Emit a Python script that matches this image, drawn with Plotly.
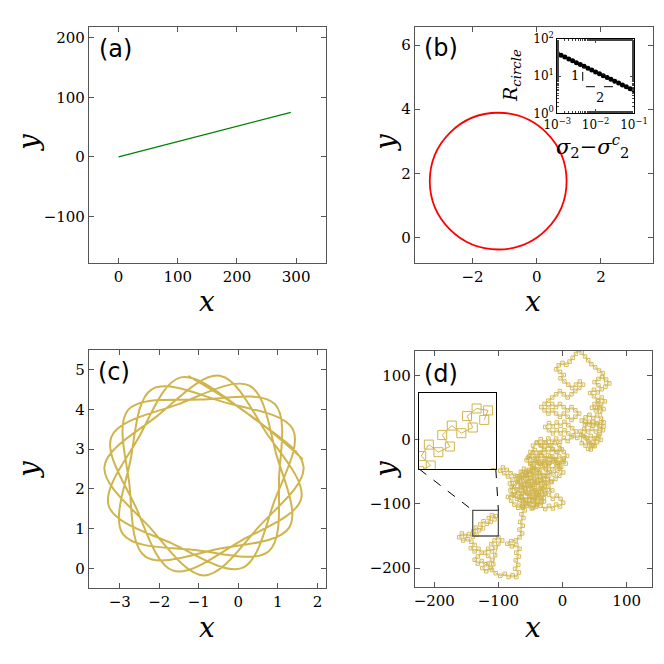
import plotly.graph_objects as go

# (a) straight trajectory
line_x = [0, 291]
line_y = [0, 75]

# (b) circular trajectory: centre and radius
circle_cx = -1.2
circle_cy = 1.76
circle_r = 2.13

# (b) inset: circle radius against sigma_2 - sigma_2^c
sigma_diff = [0.001, 0.00126, 0.00158, 0.002, 0.00251, 0.00316, 0.00398, 0.00501,
              0.00631, 0.00794, 0.01, 0.0126, 0.0158, 0.02, 0.0251, 0.0316,
              0.0398, 0.0501, 0.0631, 0.0794, 0.1]
r_circle = [41.1, 36.6, 32.7, 29.1, 25.9, 23.1, 20.6, 18.4, 16.4, 14.6, 13.0,
            11.6, 10.3, 9.2, 8.2, 7.3, 6.5, 5.8, 5.2, 4.6, 4.1]
slope_x = [0.0046, 0.0046, 0.043]
slope_y = [13, 5.2, 5.2]

# (c) rosette trajectory (corners and side points)
rose_x = [1.63, 0.19, -1.46, -2.53, -3.28, -1.67, 0.10, 0.91, 1.38, -0.35,
          -2.19, -2.73, -2.92, -1.09, 0.77, 1.03, 0.92, -0.95, -2.79, -2.76,
          -2.36, -0.50, 1.29, 0.96, 0.28, -1.53, -3.21, -2.60, -1.65, 0.06,
          1.59, 0.71, -0.47, -2.05, -3.39, -2.27, -0.87, 0.53, 1.65, 0.31, -1.27]
rose_y = [2.75, 3.93, 4.81, 3.28, 1.57, 0.62, 0.01, 1.69, 3.50, 4.18,
          4.51, 2.72, 0.86, 0.46, 0.43, 2.28, 4.14, 4.25, 3.99, 2.13,
          0.30, 0.49, 1.03, 2.87, 4.60, 4.13, 3.32, 1.55, -0.06, 0.69,
          1.76, 3.41, 4.85, 3.84, 2.55, 1.06, -0.18, 1.06, 2.55, 3.84, 4.85]

# (d) random-walk trajectory (path)
walk_xy = [
    (-106, -124), (-104, -119), (-110, -118), (-115, -122), (-112, -128), (-118, -131),
    (-123, -127), (-128, -132), (-124, -138), (-130, -141), (-135, -137), (-139, -143),
    (-134, -148), (-140, -151), (-146, -147), (-152, -150), (-157, -146), (-161, -152),
    (-155, -157), (-148, -155), (-142, -159), (-137, -164), (-143, -169), (-137, -174),
    (-131, -170), (-126, -176), (-132, -182), (-137, -187), (-132, -193), (-126, -189),
    (-120, -194), (-125, -200), (-119, -205), (-113, -200), (-116, -193), (-110, -187),
    (-116, -181), (-121, -176), (-116, -170), (-110, -174), (-105, -168), (-111, -163),
    (-106, -157), (-100, -152), (-94, -157), (-100, -162), (-105, -180), (-108, -194),
    (-110, -203), (-104, -208), (-97, -212), (-90, -209), (-84, -214), (-78, -211),
    (-72, -214), (-68, -207), (-74, -201), (-69, -195), (-73, -188), (-68, -182),
    (-72, -176), (-67, -170), (-72, -164), (-79, -166), (-86, -162), (-80, -158),
    (-73, -157), (-67, -152), (-63, -146), (-67, -140), (-62, -134), (-66, -128),
    (-61, -122), (-64, -116), (-59, -110), (-62, -104), (-57, -99), (-63, -103),
    (-69, -106), (-75, -101), (-80, -95), (-85, -89), (-79, -86), (-62, -95),
    (-68, -90), (-63, -84), (-70, -79), (-76, -85), (-81, -79), (-76, -73),
    (-82, -68), (-78, -62), (-85, -57), (-91, -52), (-97, -48), (-93, -43),
    (-87, -47), (-81, -52), (-74, -56), (-70, -64), (-65, -71), (-59, -77),
    (-53, -83), (-47, -89), (-51, -95), (-45, -101), (-39, -96), (-43, -90),
    (-37, -85), (-43, -79), (-49, -74), (-55, -68), (-61, -62), (-67, -57),
    (-62, -50), (-56, -55), (-50, -60), (-44, -66), (-38, -71), (-32, -77),
    (-27, -83), (-33, -89), (-29, -96), (-34, -103), (-27, -108), (-21, -103),
    (-15, -107), (-10, -101), (-4, -104), (1, -98), (-3, -92), (-9, -87),
    (-15, -92), (-21, -86), (-16, -79), (-22, -73), (-28, -67), (-34, -62),
    (-40, -57), (-46, -52), (-52, -47), (-58, -52), (-64, -58), (-70, -66),
    (-64, -74), (-58, -70), (-52, -76), (-46, -82), (-40, -88), (-46, -94),
    (-52, -88), (-58, -82), (-64, -88), (-58, -94), (-52, -100), (-46, -106),
    (-40, -102), (-34, -96), (-40, -82), (-34, -76), (-28, -72), (-34, -68),
    (-40, -64), (-46, -70), (-52, -64), (-58, -60), (-52, -54),
    (-60, -45), (-53, -48), (-46, -44), (-39, -47), (-32, -43), (-26, -46),
    (-23, -52), (-30, -55), (-37, -51), (-44, -54), (-51, -50), (-58, -53), (-65, -50),
    (-71, -57), (-64, -60), (-57, -56), (-50, -59), (-43, -62), (-36, -58), (-29, -61),
    (-22, -57), (-18, -65), (-25, -68), (-32, -64), (-39, -67), (-46, -70), (-53, -66),
    (-60, -69), (-67, -65), (-74, -68), (-79, -74), (-72, -77), (-65, -73), (-58, -76),
    (-51, -72), (-44, -75), (-37, -79), (-30, -75), (-23, -78), (-27, -84), (-34, -81),
    (-41, -85), (-48, -81), (-55, -84), (-62, -80), (-69, -83), (-76, -87), (-71, -92),
    (-64, -89), (-57, -93), (-50, -89), (-43, -92), (-36, -88), (-29, -91), (-33, -97),
    (-40, -100), (-47, -96), (-54, -99), (-61, -96), (-67, -99), (-62, -106), (-55, -103),
    (-48, -107), (-41, -104), (-47, -41),
    (-41, -46), (-35, -51), (-29, -56), (-23, -61), (-17, -66), (-11, -61),
    (-5, -56), (1, -51), (-4, -45), (-10, -41), (-16, -46), (-22, -41),
    (-28, -36), (-34, -41), (-40, -36), (-46, -31), (-52, -26), (-56, -32),
    (-50, -38), (-44, -44), (-38, -30), (-32, -34), (-26, -44), (-20, -50),
    (-14, -54), (-8, -48), (-2, -42), (-8, -36), (-14, -32), (-20, -36),
    (-50, -36), (-43, -33), (-36, -37), (-29, -33), (-22, -37), (-15, -34), (-8, -38),
    (-1, -34), (5, -37), (2, -29), (-5, -26), (-12, -30), (-19, -26), (-26, -29),
    (-33, -25), (-40, -29), (-47, -25), (-54, -28), (-50, -19), (-43, -16), (-36, -20),
    (-29, -16), (-22, -19), (-15, -15), (-8, -19), (-1, -15), (-5, -8), (-12, -5),
    (-19, -9), (-26, -5), (-33, -8), (-40, -5), (-46, -9),
    (-46, -20), (-40, -25), (-34, -20), (-28, -25), (-22, -30), (-16, -26),
    (-10, -31), (-4, -36), (2, -31), (7, -25), (2, -19), (-4, -14),
    (-10, -19), (-16, -14), (-22, -9), (-28, -14), (-34, -9), (-40, -4),
    (-34, 1), (-28, -4), (-22, 2), (-16, -3), (-10, 2), (-4, -3),
    (2, 3), (8, -2), (14, 4), (9, 10), (3, 15), (-3, 10),
    (-9, 15), (-15, 10), (-21, 15), (-27, 20), (-21, 26), (-15, 21),
    (-9, 27), (-3, 22), (3, 28), (9, 23), (15, 18), (21, 13),
    (17, 7), (23, 3), (29, 8),
    (30, -5), (36, -9), (42, -5), (48, -9), (54, -4), (60, 0), (56, 6), (50, 2),
    (44, 6), (38, 2), (32, 6), (28, 13), (34, 17), (40, 13), (46, 17), (52, 13),
    (58, 17), (64, 21), (60, 27), (54, 24), (48, 28), (42, 24), (36, 28),
    (35, 4), (40, -2), (45, -8),
    (40, -14), (44, -15), (50, -10), (47, -3), (53, 3), (58, 9),
    (63, 15), (58, 21), (53, 26), (47, 22), (41, 28), (35, 24),
    (30, 30), (36, 35), (42, 39), (48, 34), (54, 38), (60, 33),
    (64, 27), (59, 44), (64, 48), (58, 51), (52, 46), (46, 50), (50, 56), (56, 60),
    (54, 50), (60, 55), (66, 60), (61, 66),
    (55, 62), (49, 68), (43, 73), (49, 78), (55, 74), (61, 79),
    (56, 85), (50, 90), (56, 95), (62, 98), (68, 94), (73, 88),
    (67, 83), (63, 104), (57, 108), (51, 113), (45, 118), (40, 124),
    (35, 130), (30, 136), (25, 140), (21, 134), (16, 128), (11, 122),
    (6, 117), (0, 120), (-6, 116), (-10, 110), (-4, 106), (2, 101),
    (-3, 96), (3, 91), (9, 86), (15, 81), (21, 86), (27, 91),
    (32, 86), (26, 81), (20, 76), (14, 71), (8, 66), (2, 71),
    (-4, 76), (-10, 71), (-16, 66), (-22, 61), (-28, 56), (-22, 51),
    (-16, 56), (-10, 51), (-4, 56), (2, 51), (8, 46), (14, 51),
    (20, 46), (26, 41), (20, 36), (14, 31), (8, 36), (2, 41),
    (-4, 36), (-10, 41), (-16, 46), (-22, 41), (-28, 46), (-33, 51),
]
walk_x = [p[0] for p in walk_xy]
walk_y = [p[1] for p in walk_xy]

# zoom box of (d) and its inset
zoom_x = [-140, -100]
zoom_y = [-150, -110]

GOLD = "#d0b44c"
AXC = "#555555"
SERIF = "DejaVu Serif"
FIG = 656.0   # figure size; the page adds an 8 px body margin
OFF = 8.0

fig = go.Figure()

fig.add_trace(go.Scatter(x=line_x, y=line_y, mode="lines",
                         line=dict(color="green", width=1.3),
                         xaxis="x", yaxis="y"))
fig.add_trace(go.Scatter(x=sigma_diff, y=r_circle, mode="lines+markers",
                         line=dict(color="black", width=1.2),
                         marker=dict(color="black", size=5),
                         xaxis="x3", yaxis="y3"))
fig.add_trace(go.Scatter(x=slope_x, y=slope_y, mode="lines",
                         line=dict(color="black", width=1, dash="dash"),
                         xaxis="x3", yaxis="y3"))
fig.add_trace(go.Scatter(x=rose_x, y=rose_y, mode="lines",
                         line=dict(color=GOLD, width=2, shape="spline", smoothing=1),
                         xaxis="x4", yaxis="y4"))
fig.add_trace(go.Scatter(x=walk_x, y=walk_y, mode="lines+markers",
                         line=dict(color=GOLD, width=0.8),
                         marker=dict(symbol="square-open", size=3.5, color=GOLD,
                                     line=dict(width=0.9)),
                         xaxis="x5", yaxis="y5"))
fig.add_trace(go.Scatter(x=walk_x, y=walk_y, mode="lines+markers",
                         line=dict(color=GOLD, width=1),
                         marker=dict(symbol="square-open", size=9, color=GOLD,
                                     line=dict(width=1)),
                         xaxis="x6", yaxis="y6"))


def px_dom(a, b):
    return [(a - OFF) / FIG, (b - OFF) / FIG]


def py_dom(top, bottom):
    return [1 - (bottom - OFF) / FIG, 1 - (top - OFF) / FIG]


tickfont = dict(family=SERIF, size=15, color="black")
main_ax = dict(showgrid=False, zeroline=False, showline=True, linecolor=AXC,
               linewidth=1.3, mirror="ticks", ticks="inside", ticklen=5,
               tickcolor=AXC, tickfont=tickfont, automargin=False)
inset_ax = dict(showgrid=False, zeroline=False, showline=True, linecolor="black",
                linewidth=1, mirror="ticks", ticks="inside", ticklen=4,
                minor=dict(ticks="inside", ticklen=2), automargin=False,
                tickfont=dict(family=SERIF, size=12, color="black"))
zoom_ax = dict(showgrid=False, zeroline=False, showline=True, linecolor="black",
               linewidth=1, mirror=True, showticklabels=False, ticks="",
               automargin=False)

fig.update_layout(
    width=FIG, height=FIG, margin=dict(l=0, r=0, t=0, b=0),
    paper_bgcolor="white", plot_bgcolor="white", showlegend=False,
    xaxis=dict(main_ax, domain=px_dom(89, 325.7), range=[-50, 350],
               tickvals=[0, 100, 200, 300], anchor="y"),
    yaxis=dict(main_ax, domain=py_dom(26.7, 263.3), range=[-179, 219],
               tickvals=[-100, 0, 100, 200], anchor="x"),
    xaxis2=dict(main_ax, domain=px_dom(415, 652.7), range=[-3.79, 3.61],
                tickvals=[-2, 0, 2], anchor="y2"),
    yaxis2=dict(main_ax, domain=py_dom(26.7, 263.3), range=[-0.8, 6.57],
                tickvals=[0, 2, 4, 6], anchor="x2"),
    xaxis3=dict(inset_ax, type="log", domain=px_dom(557.3, 634), range=[-3, -1],
                anchor="y3", tickvals=[0.001, 0.01, 0.1],
                ticktext=["10<sup>−3</sup>", "10<sup>−2</sup>", "10<sup>−1</sup>"]),
    yaxis3=dict(inset_ax, type="log", domain=py_dom(39, 113.3), range=[0, 2],
                anchor="x3", tickvals=[1, 10, 100],
                ticktext=["10<sup>0</sup>", "10<sup>1</sup>", "10<sup>2</sup>"]),
    xaxis4=dict(main_ax, domain=px_dom(89, 325.7), range=[-3.78, 2.21],
                dtick=1, anchor="y4"),
    yaxis4=dict(main_ax, domain=py_dom(350, 587.7), range=[-0.49, 5.5],
                dtick=1, anchor="x4"),
    xaxis5=dict(main_ax, domain=px_dom(415, 652.3), range=[-230, 140],
                tickvals=[-200, -100, 0, 100], anchor="y5"),
    yaxis5=dict(main_ax, domain=py_dom(350.7, 587.3), range=[-230, 139],
                tickvals=[-200, -100, 0, 100], anchor="x5"),
    xaxis6=dict(zoom_ax, domain=px_dom(419.3, 495.7), range=zoom_x, anchor="y6"),
    yaxis6=dict(zoom_ax, domain=py_dom(393.3, 469.3), range=zoom_y, anchor="x6"),
)

# circle of panel (b)
fig.add_shape(type="circle", xref="x2", yref="y2",
              x0=circle_cx - circle_r, x1=circle_cx + circle_r,
              y0=circle_cy - circle_r, y1=circle_cy + circle_r,
              line=dict(color="red", width=1.8))

# zoom box and connector lines of panel (d)
fig.add_shape(type="rect", xref="x5", yref="y5",
              x0=zoom_x[0], x1=zoom_x[1], y0=zoom_y[0], y1=zoom_y[1],
              line=dict(color=AXC, width=1.3))
fig.add_shape(type="line", xref="x5", yref="y5", x0=-223.4, y0=-45.6,
              x1=zoom_x[0], y1=zoom_y[1], line=dict(color="black", width=1, dash="dash"))
fig.add_shape(type="line", xref="x5", yref="y5", x0=-104, y0=-45.6,
              x1=zoom_x[1], y1=zoom_y[1], line=dict(color="black", width=1, dash="dash"))


def label(text, px, py, size, family=SERIF, angle=0):
    fig.add_annotation(text=text, x=(px - OFF) / FIG, y=1 - (py - OFF) / FIG,
                       xref="paper", yref="paper", xanchor="center", yanchor="middle",
                       showarrow=False, textangle=angle,
                       font=dict(family=family, size=size, color="black"))


for t, px, py in [("(a)", 115, 49), ("(b)", 441, 48), ("(c)", 114, 372), ("(d)", 441, 374)]:
    label(t, px, py, 24, family="DejaVu Sans")

for px, py in [(207, 301), (533, 301), (207, 627), (533, 627)]:
    label("<i>x</i>", px, py, 28)
for px, py in [(28, 143), (385, 143), (28, 470), (385, 470)]:
    label("<i>y</i>", px, py, 28, angle=-90)

label("<i>R</i><sub><i>circle</i></sub>", 512, 76, 19, angle=-90)
label("<i>σ</i><sub>2</sub>−<i>σ</i><sup><i>c</i></sup><sub>2</sub>", 592, 146, 21)
label("1", 575, 75, 13)
label("2", 600, 97, 13)

fig.write_html("out.html")
